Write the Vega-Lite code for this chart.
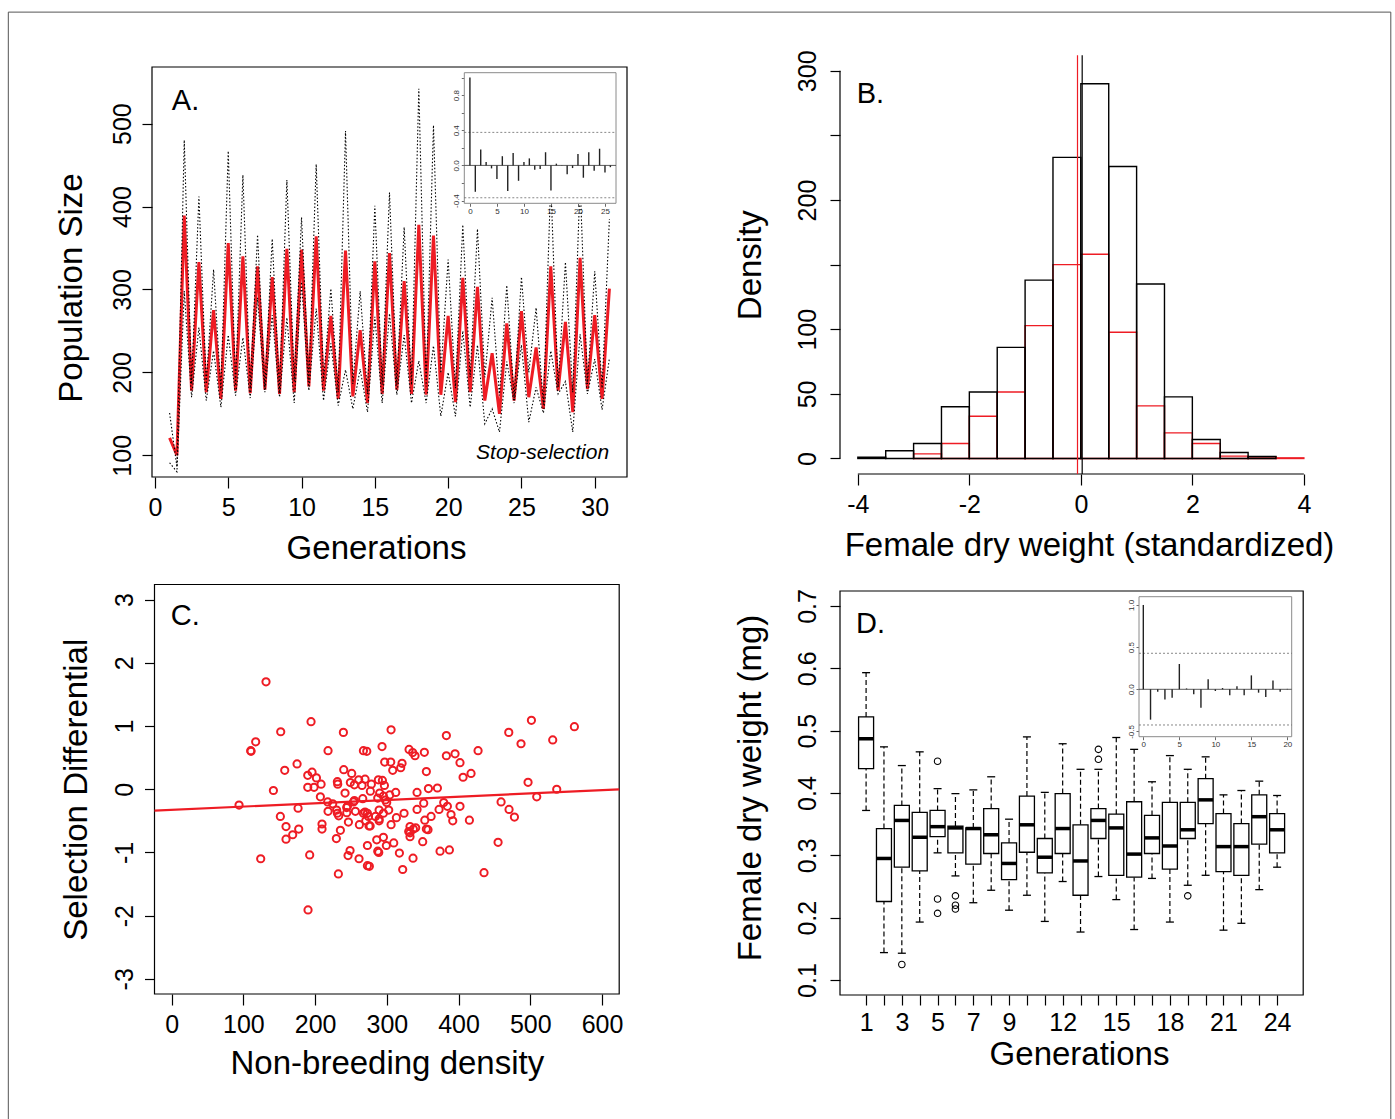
{
"$schema": "https://vega.github.io/schema/vega-lite/v6.json",
"width": 1395, "height": 1119, "autosize": "none", "padding": 0, "background": "white",
"config": {
 "view": {"stroke": null},
 "font": "Liberation Sans",
 "axis": {"grid": false, "domain": false, "tickColor": "black", "tickWidth": 1.2, "tickSize": 10,
  "labelFont": "Liberation Sans", "labelFontSize": 25, "labelColor": "black",
  "titleFont": "Liberation Sans", "titleFontSize": 33, "titleFontWeight": "normal", "titleColor": "black",
  "labelOverlap": false, "labelFlush": false, "labelBound": false}
},
"datasets": {
 "pop": [
{"gen":1,"mean":121,"up":151,"lo":91},{"gen":1.5,"mean":100,"up":86,"lo":80},{"gen":2,"mean":389,"up":480,"lo":298},{"gen":2.5,"mean":178,"up":186,"lo":170},
{"gen":3,"mean":333,"up":412,"lo":254},{"gen":3.5,"mean":176,"up":186,"lo":166},{"gen":4,"mean":275,"up":324,"lo":226},{"gen":4.5,"mean":168,"up":178,"lo":158},
{"gen":5,"mean":356,"up":467,"lo":245},{"gen":5.5,"mean":178,"up":184,"lo":172},{"gen":6,"mean":340,"up":438,"lo":242},{"gen":6.5,"mean":175,"up":181,"lo":169},
{"gen":7,"mean":328,"up":366,"lo":290},{"gen":7.5,"mean":179,"up":182,"lo":176},{"gen":8,"mean":315,"up":361,"lo":269},{"gen":8.5,"mean":174,"up":178,"lo":170},
{"gen":9,"mean":349,"up":432,"lo":266},{"gen":9.5,"mean":176,"up":189,"lo":163},{"gen":10,"mean":348,"up":387,"lo":309},{"gen":10.5,"mean":183,"up":188,"lo":178},
{"gen":11,"mean":364,"up":451,"lo":277},{"gen":11.5,"mean":178,"up":190,"lo":166},{"gen":12,"mean":268,"up":301,"lo":235},{"gen":12.5,"mean":168,"up":176,"lo":160},
{"gen":13,"mean":347,"up":491,"lo":203},{"gen":13.5,"mean":171,"up":186,"lo":156},{"gen":14,"mean":251,"up":298,"lo":204},{"gen":14.5,"mean":163,"up":174,"lo":152},
{"gen":15,"mean":334,"up":401,"lo":267},{"gen":15.5,"mean":174,"up":185,"lo":163},{"gen":16,"mean":344,"up":417,"lo":271},{"gen":16.5,"mean":179,"up":185,"lo":173},
{"gen":17,"mean":310,"up":375,"lo":245},{"gen":17.5,"mean":174,"up":185,"lo":163},{"gen":18,"mean":378,"up":542,"lo":214},{"gen":18.5,"mean":173,"up":183,"lo":163},
{"gen":19,"mean":365,"up":498,"lo":232},{"gen":19.5,"mean":173,"up":199,"lo":147},{"gen":20,"mean":268,"up":336,"lo":200},{"gen":20.5,"mean":164,"up":181,"lo":147},
{"gen":21,"mean":314,"up":378,"lo":250},{"gen":21.5,"mean":176,"up":194,"lo":158},{"gen":22,"mean":303,"up":373,"lo":233},{"gen":22.5,"mean":166,"up":194,"lo":138},
{"gen":23,"mean":223,"up":290,"lo":156},{"gen":23.5,"mean":150,"up":172,"lo":128},{"gen":24,"mean":259,"up":305,"lo":213},{"gen":24.5,"mean":166,"up":169,"lo":163},
{"gen":25,"mean":274,"up":315,"lo":233},{"gen":25.5,"mean":170,"up":200,"lo":140},{"gen":26,"mean":230,"up":278,"lo":182},{"gen":26.5,"mean":156,"up":161,"lo":151},
{"gen":27,"mean":328,"up":430,"lo":226},{"gen":27.5,"mean":178,"up":182,"lo":174},{"gen":28,"mean":261,"up":333,"lo":189},{"gen":28.5,"mean":152,"up":176,"lo":128},
{"gen":29,"mean":338,"up":430,"lo":246},{"gen":29.5,"mean":180,"up":186,"lo":174},{"gen":30,"mean":269,"up":322,"lo":216},{"gen":30.5,"mean":168,"up":181,"lo":155},
{"gen":31,"mean":301,"up":385,"lo":217}
 ],
 "acfA": [
{"lag":0,"acf":1.0},{"lag":1,"acf":-0.30},{"lag":2,"acf":0.18},{"lag":3,"acf":0.04},{"lag":4,"acf":-0.034},{"lag":5,"acf":-0.155},{"lag":6,"acf":0.105},
{"lag":7,"acf":-0.29},{"lag":8,"acf":0.14},{"lag":9,"acf":-0.175},{"lag":10,"acf":0.04},{"lag":11,"acf":0.08},{"lag":12,"acf":-0.05},{"lag":13,"acf":-0.04},
{"lag":14,"acf":0.15},{"lag":15,"acf":-0.285},{"lag":16,"acf":0.02},{"lag":17,"acf":-0.005},{"lag":18,"acf":-0.10},{"lag":19,"acf":-0.03},{"lag":20,"acf":0.13},
{"lag":21,"acf":-0.14},{"lag":22,"acf":0.15},{"lag":23,"acf":-0.06},{"lag":24,"acf":0.19},{"lag":25,"acf":-0.08},{"lag":26,"acf":-0.02}
 ],
 "ciA": [{"ci":0.376},{"ci":-0.368}],
 "acfD": [
{"lag":0,"acf":1.0},{"lag":1,"acf":-0.36},{"lag":2,"acf":-0.03},{"lag":3,"acf":-0.12},{"lag":4,"acf":-0.10},{"lag":5,"acf":0.30},{"lag":6,"acf":0.01},
{"lag":7,"acf":-0.06},{"lag":8,"acf":-0.22},{"lag":9,"acf":0.12},{"lag":10,"acf":-0.02},{"lag":11,"acf":0.015},{"lag":12,"acf":-0.07},{"lag":13,"acf":0.035},
{"lag":14,"acf":-0.07},{"lag":15,"acf":0.165},{"lag":16,"acf":-0.04},{"lag":17,"acf":-0.09},{"lag":18,"acf":0.105},{"lag":19,"acf":-0.03},{"lag":20,"acf":0.005}
 ],
 "ciD": [{"ci":0.427},{"ci":-0.423}],
 "hist": [
{"lo":-4,"hi":-3.5,"black":1,"red":null},{"lo":-3.5,"hi":-3,"black":6,"red":null},{"lo":-3,"hi":-2.5,"black":11.6,"red":3.6},
{"lo":-2.5,"hi":-2,"black":40,"red":11.6},{"lo":-2,"hi":-1.5,"black":51.5,"red":32.7},{"lo":-1.5,"hi":-1,"black":86,"red":51.5},
{"lo":-1,"hi":-0.5,"black":138,"red":102.8},{"lo":-0.5,"hi":0,"black":233,"red":150},{"lo":0,"hi":0.5,"black":290,"red":158},
{"lo":0.5,"hi":1,"black":226,"red":97.7},{"lo":1,"hi":1.5,"black":135,"red":40.7},{"lo":1.5,"hi":2,"black":47.7,"red":19.8},
{"lo":2,"hi":2.5,"black":14.7,"red":11.6},{"lo":2.5,"hi":3,"black":4.6,"red":1.8},{"lo":3,"hi":3.5,"black":1.5,"red":1.3},
{"lo":3.5,"hi":4,"black":null,"red":0.5}
 ],
 "scatter": [
{"nb":131.5,"sd":1.70},{"nb":194.3,"sd":1.07},{"nb":152,"sd":0.91},{"nb":239.4,"sd":0.90},{"nb":305.9,"sd":0.94},{"nb":383,"sd":0.85},{"nb":470,"sd":0.90},
{"nb":501.6,"sd":1.09},{"nb":561.5,"sd":0.99},{"nb":531.3,"sd":0.78},{"nb":487.1,"sd":0.72},{"nb":117.1,"sd":0.75},{"nb":110.2,"sd":0.61},{"nb":110.6,"sd":0.60},
{"nb":218,"sd":0.61},{"nb":267.3,"sd":0.61},{"nb":272,"sd":0.60},{"nb":293.3,"sd":0.675},{"nb":331,"sd":0.63},{"nb":336,"sd":0.58},{"nb":339.3,"sd":0.53},
{"nb":352.3,"sd":0.585},{"nb":383,"sd":0.53},{"nb":395.1,"sd":0.56},{"nb":427.2,"sd":0.61},{"nb":297,"sd":0.43},{"nb":305.4,"sd":0.43},{"nb":321.2,"sd":0.41},
{"nb":319.3,"sd":0.34},{"nb":308.2,"sd":0.30},{"nb":402,"sd":0.42},{"nb":417.4,"sd":0.25},{"nb":406.3,"sd":0.19},{"nb":355.1,"sd":0.28},{"nb":174.8,"sd":0.40},
{"nb":157.6,"sd":0.30},{"nb":195.7,"sd":0.27},{"nb":189.7,"sd":0.22},{"nb":201.8,"sd":0.18},{"nb":208.3,"sd":0.08},{"nb":189.7,"sd":0.03},{"nb":198.5,"sd":0.03},
{"nb":231,"sd":0.12},{"nb":231.5,"sd":0.08},{"nb":239.9,"sd":0.31},{"nb":251,"sd":0.25},{"nb":260.8,"sd":0.15},{"nb":269.6,"sd":0.16},{"nb":254.7,"sd":0.07},
{"nb":265.4,"sd":0.06},{"nb":278.4,"sd":0.08},{"nb":288.2,"sd":0.15},{"nb":293.8,"sd":0.14},{"nb":296.6,"sd":0.06},{"nb":277,"sd":-0.03},{"nb":290,"sd":-0.06},
{"nb":295.2,"sd":-0.11},{"nb":304,"sd":-0.09},{"nb":312.4,"sd":-0.05},{"nb":342.1,"sd":-0.05},{"nb":358,"sd":0.01},{"nb":370.5,"sd":0.02},{"nb":496.9,"sd":0.11},
{"nb":536.9,"sd":0.0},{"nb":509,"sd":-0.12},{"nb":141.8,"sd":-0.02},{"nb":93.9,"sd":-0.25},{"nb":207.3,"sd":-0.12},{"nb":217.5,"sd":-0.20},{"nb":224.5,"sd":-0.23},
{"nb":218,"sd":-0.35},{"nb":231,"sd":-0.38},{"nb":232.9,"sd":-0.42},{"nb":245,"sd":-0.27},{"nb":244.1,"sd":-0.37},{"nb":256.1,"sd":-0.35},{"nb":254.7,"sd":-0.18},
{"nb":266.4,"sd":-0.15},{"nb":269.6,"sd":-0.36},{"nb":274.3,"sd":-0.43},{"nb":270.6,"sd":-0.50},{"nb":276.7,"sd":-0.58},{"nb":284.1,"sd":-0.43},{"nb":289.2,"sd":-0.47},
{"nb":295.2,"sd":-0.38},{"nb":289.2,"sd":-0.33},{"nb":299.8,"sd":-0.21},{"nb":302.6,"sd":-0.33},{"nb":313.3,"sd":-0.45},{"nb":324,"sd":-0.38},{"nb":305.9,"sd":-0.56},
{"nb":289.2,"sd":-0.50},{"nb":246.4,"sd":-0.52},{"nb":261.7,"sd":-0.56},{"nb":275.2,"sd":-0.58},{"nb":176.2,"sd":-0.30},{"nb":151.5,"sd":-0.43},{"nb":159.4,"sd":-0.59},
{"nb":177.1,"sd":-0.63},{"nb":168.7,"sd":-0.72},{"nb":159.4,"sd":-0.79},{"nb":209.6,"sd":-0.55},{"nb":209.6,"sd":-0.63},{"nb":235.2,"sd":-0.65},{"nb":229.6,"sd":-0.78},
{"nb":342.1,"sd":-0.32},{"nb":351.4,"sd":-0.22},{"nb":361.7,"sd":-0.43},{"nb":352.9,"sd":-0.49},{"nb":372.8,"sd":-0.32},{"nb":379.3,"sd":-0.21},{"nb":384.4,"sd":-0.27},
{"nb":389.5,"sd":-0.40},{"nb":391.9,"sd":-0.50},{"nb":402,"sd":-0.27},{"nb":415.1,"sd":-0.49},{"nb":459.3,"sd":-0.20},{"nb":470.4,"sd":-0.32},{"nb":477.9,"sd":-0.44},
{"nb":332.3,"sd":-0.59},{"nb":337,"sd":-0.63},{"nb":340.2,"sd":-0.61},{"nb":332.3,"sd":-0.69},{"nb":332.3,"sd":-0.75},{"nb":330.5,"sd":-0.67},{"nb":355.1,"sd":-0.63},
{"nb":357.4,"sd":-0.64},{"nb":295.2,"sd":-0.76},{"nb":285.9,"sd":-0.80},{"nb":309.6,"sd":-0.85},{"nb":299.3,"sd":-0.89},{"nb":272.9,"sd":-0.89},{"nb":287.3,"sd":-0.98},
{"nb":288.7,"sd":-1.00},{"nb":248.7,"sd":-0.97},{"nb":245.9,"sd":-1.05},{"nb":261.2,"sd":-1.10},{"nb":272.9,"sd":-1.21},{"nb":275.6,"sd":-1.22},{"nb":317.5,"sd":-1.01},
{"nb":336.5,"sd":-1.09},{"nb":322.1,"sd":-1.27},{"nb":350,"sd":-0.83},{"nb":374.2,"sd":-0.98},{"nb":387.2,"sd":-0.96},{"nb":455.1,"sd":-0.84},{"nb":435.5,"sd":-1.32},
{"nb":232.4,"sd":-1.34},{"nb":192.4,"sd":-1.04},{"nb":124.1,"sd":-1.10},{"nb":190.1,"sd":-1.91},{"nb":249.1,"sd":0.105},{"nb":241.7,"sd":-0.06},{"nb":253.4,"sd":-0.20},
{"nb":298,"sd":-0.17},{"nb":287.3,"sd":-0.14},{"nb":244,"sd":-0.29},{"nb":267.3,"sd":-0.38},{"nb":272.9,"sd":-0.38},{"nb":230,"sd":-0.33}
 ],
 "fit": [{"nb":-24,"sd":-0.3385},{"nb":624,"sd":-0.001}],
 "box": [
{"gen":1,"lo":0.372,"q1":0.439,"med":0.487,"q3":0.522,"hi":0.593},{"gen":2,"lo":0.144,"q1":0.226,"med":0.295,"q3":0.343,"hi":0.474},
{"gen":3,"lo":0.143,"q1":0.281,"med":0.356,"q3":0.380,"hi":0.444},{"gen":4,"lo":0.193,"q1":0.275,"med":0.329,"q3":0.369,"hi":0.466},
{"gen":5,"lo":0.304,"q1":0.330,"med":0.346,"q3":0.372,"hi":0.407},{"gen":6,"lo":0.267,"q1":0.304,"med":0.344,"q3":0.347,"hi":0.399},
{"gen":7,"lo":0.224,"q1":0.286,"med":0.343,"q3":0.344,"hi":0.405},{"gen":8,"lo":0.244,"q1":0.303,"med":0.333,"q3":0.375,"hi":0.426},
{"gen":9,"lo":0.212,"q1":0.261,"med":0.287,"q3":0.320,"hi":0.358},{"gen":10,"lo":0.236,"q1":0.305,"med":0.349,"q3":0.395,"hi":0.490},
{"gen":11,"lo":0.194,"q1":0.272,"med":0.297,"q3":0.327,"hi":0.401},{"gen":12,"lo":0.258,"q1":0.303,"med":0.343,"q3":0.399,"hi":0.479},
{"gen":13,"lo":0.177,"q1":0.236,"med":0.291,"q3":0.349,"hi":0.438},{"gen":14,"lo":0.266,"q1":0.327,"med":0.356,"q3":0.375,"hi":0.438},
{"gen":15,"lo":0.229,"q1":0.268,"med":0.344,"q3":0.366,"hi":0.489},{"gen":16,"lo":0.181,"q1":0.265,"med":0.302,"q3":0.386,"hi":0.470},
{"gen":17,"lo":0.263,"q1":0.303,"med":0.328,"q3":0.364,"hi":0.418},{"gen":18,"lo":0.193,"q1":0.278,"med":0.315,"q3":0.385,"hi":0.460},
{"gen":19,"lo":0.252,"q1":0.327,"med":0.341,"q3":0.385,"hi":0.438},{"gen":20,"lo":0.268,"q1":0.351,"med":0.389,"q3":0.423,"hi":0.458},
{"gen":21,"lo":0.180,"q1":0.274,"med":0.314,"q3":0.367,"hi":0.397},{"gen":22,"lo":0.191,"q1":0.268,"med":0.314,"q3":0.351,"hi":0.404},
{"gen":23,"lo":0.245,"q1":0.318,"med":0.362,"q3":0.397,"hi":0.419},{"gen":24,"lo":0.281,"q1":0.304,"med":0.341,"q3":0.367,"hi":0.396}
 ],
 "outl": [
{"gen":3,"w":0.125},{"gen":5,"w":0.451},{"gen":5,"w":0.230},{"gen":5,"w":0.207},{"gen":6,"w":0.235},{"gen":6,"w":0.220},{"gen":6,"w":0.214},
{"gen":14,"w":0.470},{"gen":14,"w":0.454},{"gen":19,"w":0.235}
 ]
},
"layer": [
 {
  "layer": [
   {"data": {"values": [{}]},
    "mark": {"type": "rect", "fill": null, "stroke": "black", "strokeWidth": 1.2},
    "encoding": {
     "x": {"datum": -0.2, "type": "quantitative", "scale": {"domain": [-0.2, 32.2], "range": [152, 627], "nice": false, "zero": false, "padding": 0},
       "axis": {"orient": "bottom", "offset": -642, "values": [0,5,10,15,20,25,30], "title": "Generations", "tickSize": 11, "labelPadding": 7, "titlePadding": 12.7, "titleX": 376,
         "labelExpr": "format(datum.value, 'd')"}},
     "x2": {"datum": 32.2},
     "y": {"datum": 73.8, "type": "quantitative", "scale": {"domain": [73.8, 568.3], "range": [477, 67], "nice": false, "zero": false, "padding": 0},
       "axis": {"orient": "left", "offset": -152, "values": [100,200,300,400,500], "title": "Population Size", "labelAngle": -90, "labelAlign": "center", "labelBaseline": "alphabetic", "labelPadding": 12, "titlePadding": 22, "titleY": 287.5,
         "labelExpr": "format(datum.value, 'd')"}},
     "y2": {"datum": 568.3}
    }},
   {"data": {"values": [{}]},
    "mark": {"type": "rect", "fill": null, "stroke": "#555555", "strokeWidth": 1},
    "encoding": {"x": {"datum": -10.0, "type": "quantitative"}, "x2": {"datum": 84.3}, "y": {"datum": 634.5, "type": "quantitative"}, "y2": {"datum": -714}}},
   {"data": {"name": "pop"}, "mark": {"type": "line", "color": "#ee1c24", "strokeWidth": 3},
    "encoding": {"x": {"field": "gen", "type": "quantitative"}, "y": {"field": "mean", "type": "quantitative"}}},
   {"data": {"name": "pop"}, "mark": {"type": "line", "color": "black", "strokeWidth": 1.1, "strokeDash": [1.5, 2]},
    "encoding": {"x": {"field": "gen", "type": "quantitative"}, "y": {"field": "up", "type": "quantitative"}}},
   {"data": {"name": "pop"}, "mark": {"type": "line", "color": "black", "strokeWidth": 1.1, "strokeDash": [1.5, 2]},
    "encoding": {"x": {"field": "gen", "type": "quantitative"}, "y": {"field": "lo", "type": "quantitative"}}},
   {"data": {"values": [{}]}, "mark": {"type": "text", "text": "A.", "fontSize": 29, "align": "left", "baseline": "alphabetic", "font": "Liberation Sans"},
    "encoding": {"x": {"datum": 1.15, "type": "quantitative"}, "y": {"datum": 517, "type": "quantitative"}}},
   {"data": {"values": [{}]}, "mark": {"type": "text", "text": "Stop-selection", "fontSize": 21, "fontStyle": "italic", "align": "right", "baseline": "alphabetic", "font": "Liberation Sans"},
    "encoding": {"x": {"datum": 30.98, "type": "quantitative"}, "y": {"datum": 96, "type": "quantitative"}}}
  ]
 },
 {
  "layer": [
   {"data": {"values": [{}]},
    "mark": {"type": "rect", "fill": "white", "stroke": "#8a8a8a", "strokeWidth": 1},
    "encoding": {
     "x": {"datum": -1.04, "type": "quantitative", "scale": {"domain": [-1.04, 27.04], "range": [464.3, 616], "nice": false, "zero": false, "padding": 0},
       "axis": {"orient": "bottom", "offset": -915.7, "values": [0,5,10,15,20,25], "title": null, "tickSize": 3, "labelPadding": 1, "labelFontSize": 8, "tickColor": "#444444", "labelColor": "#333333", "tickWidth": 0.8,
         "labelExpr": "format(datum.value, 'd')"}},
     "x2": {"datum": 27.04},
     "y": {"datum": -0.431, "type": "quantitative", "scale": {"domain": [-0.431, 1.055], "range": [203.3, 72.7], "nice": false, "zero": false, "padding": 0},
       "axis": {"orient": "left", "offset": -464.3, "values": [-0.4,-0.2,0,0.2,0.4,0.6,0.8,1.0], "title": null, "tickSize": 3, "labelPadding": 3, "labelFontSize": 8, "tickColor": "#444444", "labelColor": "#333333", "tickWidth": 0.8,
         "labelAngle": -90, "labelAlign": "center", "labelBaseline": "alphabetic",
         "labelExpr": "abs(round(datum.value*10)) % 4 == 0 ? replace(format(datum.value, '.1f'), '−', '-') : ''"}},
     "y2": {"datum": 1.055}
    }},
   {"data": {"values": [{}]}, "mark": {"type": "rule", "color": "#333333", "strokeWidth": 0.8},
    "encoding": {"x": {"datum": -1.04, "type": "quantitative"}, "x2": {"datum": 27.04}, "y": {"datum": 0, "type": "quantitative"}}},
   {"data": {"name": "ciA"}, "mark": {"type": "rule", "color": "#555555", "strokeWidth": 0.7, "strokeDash": [2, 2]},
    "encoding": {"x": {"datum": -1.04, "type": "quantitative"}, "x2": {"datum": 27.04}, "y": {"field": "ci", "type": "quantitative"}}},
   {"data": {"name": "acfA"}, "mark": {"type": "rule", "color": "#222222", "strokeWidth": 1.4},
    "encoding": {"x": {"field": "lag", "type": "quantitative"}, "y": {"field": "acf", "type": "quantitative"}, "y2": {"datum": 0}}}
  ]
 },
 {
  "layer": [
   {"data": {"values": [{}]},
    "mark": {"type": "rule", "color": "black", "strokeWidth": 1.2},
    "encoding": {
     "x": {"datum": -4, "type": "quantitative", "scale": {"domain": [-4.32, 4.32], "range": [840, 1321.7], "nice": false, "zero": false, "padding": 0},
       "axis": {"orient": "bottom", "offset": -645, "values": [-4,-2,0,2,4], "title": "Female dry weight (standardized)", "tickSize": 11, "labelPadding": 7, "titlePadding": 12, "titleX": 1089,
         "labelExpr": "replace(format(datum.value, 'd'), '−', '-')"}},
     "x2": {"datum": 4},
     "y": {"datum": -12, "type": "quantitative", "scale": {"domain": [-12, 312], "range": [474, 55.3], "nice": false, "zero": false, "padding": 0},
       "axis": {"orient": "left", "offset": -840, "values": [0,50,100,150,200,250,300], "title": "Density", "labelAngle": -90, "labelAlign": "center", "labelBaseline": "alphabetic", "labelPadding": 15, "titlePadding": 28,
         "labelExpr": "datum.value == 150 || datum.value == 250 ? '' : format(datum.value, 'd')"}}
    }},
   {"data": {"values": [{}]}, "mark": {"type": "rule", "color": "black", "strokeWidth": 1.2},
    "encoding": {"x": {"datum": -4.32, "type": "quantitative"}, "y": {"datum": 0, "type": "quantitative"}, "y2": {"datum": 300}}},
   {"data": {"name": "hist"}, "mark": {"type": "rect", "fill": null, "stroke": "#ee1c24", "strokeWidth": 1.4},
    "encoding": {"x": {"field": "lo", "type": "quantitative"}, "x2": {"field": "hi"}, "y": {"field": "red", "type": "quantitative"}, "y2": {"datum": 0}}},
   {"data": {"name": "hist"}, "mark": {"type": "rect", "fill": null, "stroke": "black", "strokeWidth": 1.4},
    "encoding": {"x": {"field": "lo", "type": "quantitative"}, "x2": {"field": "hi"}, "y": {"field": "black", "type": "quantitative"}, "y2": {"datum": 0}}},
   {"data": {"values": [{}]}, "mark": {"type": "rule", "color": "#ee1c24", "strokeWidth": 1.2},
    "encoding": {"x": {"datum": -0.06, "type": "quantitative"}, "y": {"datum": -12, "type": "quantitative"}, "y2": {"datum": 312}}},
   {"data": {"values": [{}]}, "mark": {"type": "rule", "color": "black", "strokeWidth": 1.2},
    "encoding": {"x": {"datum": 0.024, "type": "quantitative"}, "y": {"datum": -12, "type": "quantitative"}, "y2": {"datum": 312}}},
   {"data": {"values": [{}]}, "mark": {"type": "text", "text": "B.", "fontSize": 29, "align": "left", "baseline": "alphabetic", "font": "Liberation Sans"},
    "encoding": {"x": {"datum": -4.02, "type": "quantitative"}, "y": {"datum": 274.8, "type": "quantitative"}}}
  ]
 },
 {
  "layer": [
   {"data": {"values": [{}]},
    "mark": {"type": "rect", "fill": null, "stroke": "black", "strokeWidth": 1.2},
    "encoding": {
     "x": {"datum": -24, "type": "quantitative", "scale": {"domain": [-24, 624], "range": [154.5, 619.2], "nice": false, "zero": false, "padding": 0},
       "axis": {"orient": "bottom", "offset": -125, "values": [0,100,200,300,400,500,600], "title": "Non-breeding density", "tickSize": 11, "labelPadding": 7, "titlePadding": 10,
         "labelExpr": "format(datum.value, 'd')"}},
     "x2": {"datum": 624},
     "y": {"datum": -3.24, "type": "quantitative", "scale": {"domain": [-3.24, 3.24], "range": [994, 584.5], "nice": false, "zero": false, "padding": 0},
       "axis": {"orient": "left", "offset": -154.5, "values": [-3,-2,-1,0,1,2,3], "title": "Selection Differential", "labelAngle": -90, "labelAlign": "center", "labelBaseline": "alphabetic", "labelPadding": 12, "titlePadding": 19,
         "labelExpr": "replace(format(datum.value, 'd'), '−', '-')"}},
     "y2": {"datum": 3.24}
    }},
   {"data": {"name": "scatter"}, "mark": {"type": "point", "shape": "circle", "filled": false, "color": "#ee1c24", "strokeWidth": 2, "size": 52, "opacity": 1},
    "encoding": {"x": {"field": "nb", "type": "quantitative"}, "y": {"field": "sd", "type": "quantitative"}}},
   {"data": {"name": "fit"}, "mark": {"type": "line", "color": "#ee1c24", "strokeWidth": 2.2},
    "encoding": {"x": {"field": "nb", "type": "quantitative"}, "y": {"field": "sd", "type": "quantitative"}}},
   {"data": {"values": [{}]}, "mark": {"type": "text", "text": "C.", "fontSize": 29, "align": "left", "baseline": "alphabetic", "font": "Liberation Sans"},
    "encoding": {"x": {"datum": -1.4, "type": "quantitative"}, "y": {"datum": 2.6, "type": "quantitative"}}}
  ]
 },
 {
  "layer": [
   {"data": {"values": [{}]},
    "mark": {"type": "rect", "fill": null, "stroke": "black", "strokeWidth": 1.2},
    "encoding": {
     "x": {"datum": -0.46, "type": "quantitative", "scale": {"domain": [-0.46, 25.46], "range": [840, 1303.2], "nice": false, "zero": false, "padding": 0},
       "axis": {"orient": "bottom", "offset": -124, "values": [1,2,3,4,5,6,7,8,9,10,11,12,13,14,15,16,17,18,19,20,21,22,23,24], "title": "Generations", "tickSize": 10, "labelPadding": 5, "titlePadding": 3, "titleX": 1079,
         "labelExpr": "indexof([1,3,5,7,9,12,15,18,21,24], datum.value) >= 0 ? format(datum.value, 'd') : ''"}},
     "x2": {"datum": 25.46},
     "y": {"datum": 0.076, "type": "quantitative", "scale": {"domain": [0.076, 0.724], "range": [995, 591], "nice": false, "zero": false, "padding": 0},
       "axis": {"orient": "left", "offset": -840, "values": [0.1,0.2,0.3,0.4,0.5,0.6,0.7], "title": "Female dry weight (mg)", "labelAngle": -90, "labelAlign": "center", "labelBaseline": "alphabetic", "labelPadding": 15, "titlePadding": 28, "titleY": 787.5,
         "labelExpr": "format(datum.value, '.1f')"}},
     "y2": {"datum": 0.724}
    }},
   {"data": {"name": "box"}, "mark": {"type": "rule", "color": "black", "strokeWidth": 1.2, "strokeDash": [5, 3]},
    "encoding": {"x": {"field": "gen", "type": "quantitative"}, "y": {"field": "lo", "type": "quantitative"}, "y2": {"field": "q1"}}},
   {"data": {"name": "box"}, "mark": {"type": "rule", "color": "black", "strokeWidth": 1.2, "strokeDash": [5, 3]},
    "encoding": {"x": {"field": "gen", "type": "quantitative"}, "y": {"field": "q3", "type": "quantitative"}, "y2": {"field": "hi"}}},
   {"data": {"name": "box"}, "mark": {"type": "tick", "orient": "horizontal", "size": 8, "thickness": 1.3, "color": "black", "opacity": 1},
    "encoding": {"x": {"field": "gen", "type": "quantitative"}, "y": {"field": "lo", "type": "quantitative"}}},
   {"data": {"name": "box"}, "mark": {"type": "tick", "orient": "horizontal", "size": 8, "thickness": 1.3, "color": "black", "opacity": 1},
    "encoding": {"x": {"field": "gen", "type": "quantitative"}, "y": {"field": "hi", "type": "quantitative"}}},
   {"data": {"name": "box"}, "mark": {"type": "bar", "orient": "vertical", "size": 15, "fill": "white", "stroke": "black", "strokeWidth": 1.3},
    "encoding": {"x": {"field": "gen", "type": "quantitative"}, "y": {"field": "q1", "type": "quantitative"}, "y2": {"field": "q3"}}},
   {"data": {"name": "box"}, "mark": {"type": "tick", "orient": "horizontal", "size": 15, "thickness": 3.5, "color": "black", "opacity": 1},
    "encoding": {"x": {"field": "gen", "type": "quantitative"}, "y": {"field": "med", "type": "quantitative"}}},
   {"data": {"name": "outl"}, "mark": {"type": "point", "shape": "circle", "filled": false, "color": "black", "strokeWidth": 1.1, "size": 42, "opacity": 1},
    "encoding": {"x": {"field": "gen", "type": "quantitative"}, "y": {"field": "w", "type": "quantitative"}}},
   {"data": {"values": [{}]}, "mark": {"type": "text", "text": "D.", "fontSize": 29, "align": "left", "baseline": "alphabetic", "font": "Liberation Sans"},
    "encoding": {"x": {"datum": 0.435, "type": "quantitative"}, "y": {"datum": 0.657, "type": "quantitative"}}}
  ]
 },
 {
  "layer": [
   {"data": {"values": [{}]},
    "mark": {"type": "rect", "fill": "white", "stroke": "#8a8a8a", "strokeWidth": 1},
    "encoding": {
     "x": {"datum": -0.6, "type": "quantitative", "scale": {"domain": [-0.6, 20.6], "range": [1139, 1291.7], "nice": false, "zero": false, "padding": 0},
       "axis": {"orient": "bottom", "offset": -382.3, "values": [0,5,10,15,20], "title": null, "tickSize": 3, "labelPadding": 1, "labelFontSize": 8, "tickColor": "#444444", "labelColor": "#333333", "tickWidth": 0.8,
         "labelExpr": "format(datum.value, 'd')"}},
     "x2": {"datum": 20.6},
     "y": {"datum": -0.562, "type": "quantitative", "scale": {"domain": [-0.562, 1.098], "range": [736.7, 596.7], "nice": false, "zero": false, "padding": 0},
       "axis": {"orient": "left", "offset": -1139, "values": [-0.5,0,0.5,1.0], "title": null, "tickSize": 3, "labelPadding": 3, "labelFontSize": 8, "tickColor": "#444444", "labelColor": "#333333", "tickWidth": 0.8,
         "labelAngle": -90, "labelAlign": "center", "labelBaseline": "alphabetic",
         "labelExpr": "replace(format(datum.value, '.1f'), '−', '-')"}},
     "y2": {"datum": 1.098}
    }},
   {"data": {"values": [{}]}, "mark": {"type": "rule", "color": "#333333", "strokeWidth": 0.8},
    "encoding": {"x": {"datum": -0.6, "type": "quantitative"}, "x2": {"datum": 20.6}, "y": {"datum": 0, "type": "quantitative"}}},
   {"data": {"name": "ciD"}, "mark": {"type": "rule", "color": "#555555", "strokeWidth": 0.7, "strokeDash": [2, 2]},
    "encoding": {"x": {"datum": -0.6, "type": "quantitative"}, "x2": {"datum": 20.6}, "y": {"field": "ci", "type": "quantitative"}}},
   {"data": {"name": "acfD"}, "mark": {"type": "rule", "color": "#222222", "strokeWidth": 1.4},
    "encoding": {"x": {"field": "lag", "type": "quantitative"}, "y": {"field": "acf", "type": "quantitative"}, "y2": {"datum": 0}}}
  ]
 }
],
"resolve": {"scale": {"x": "independent", "y": "independent"}, "axis": {"x": "independent", "y": "independent"}}
}
